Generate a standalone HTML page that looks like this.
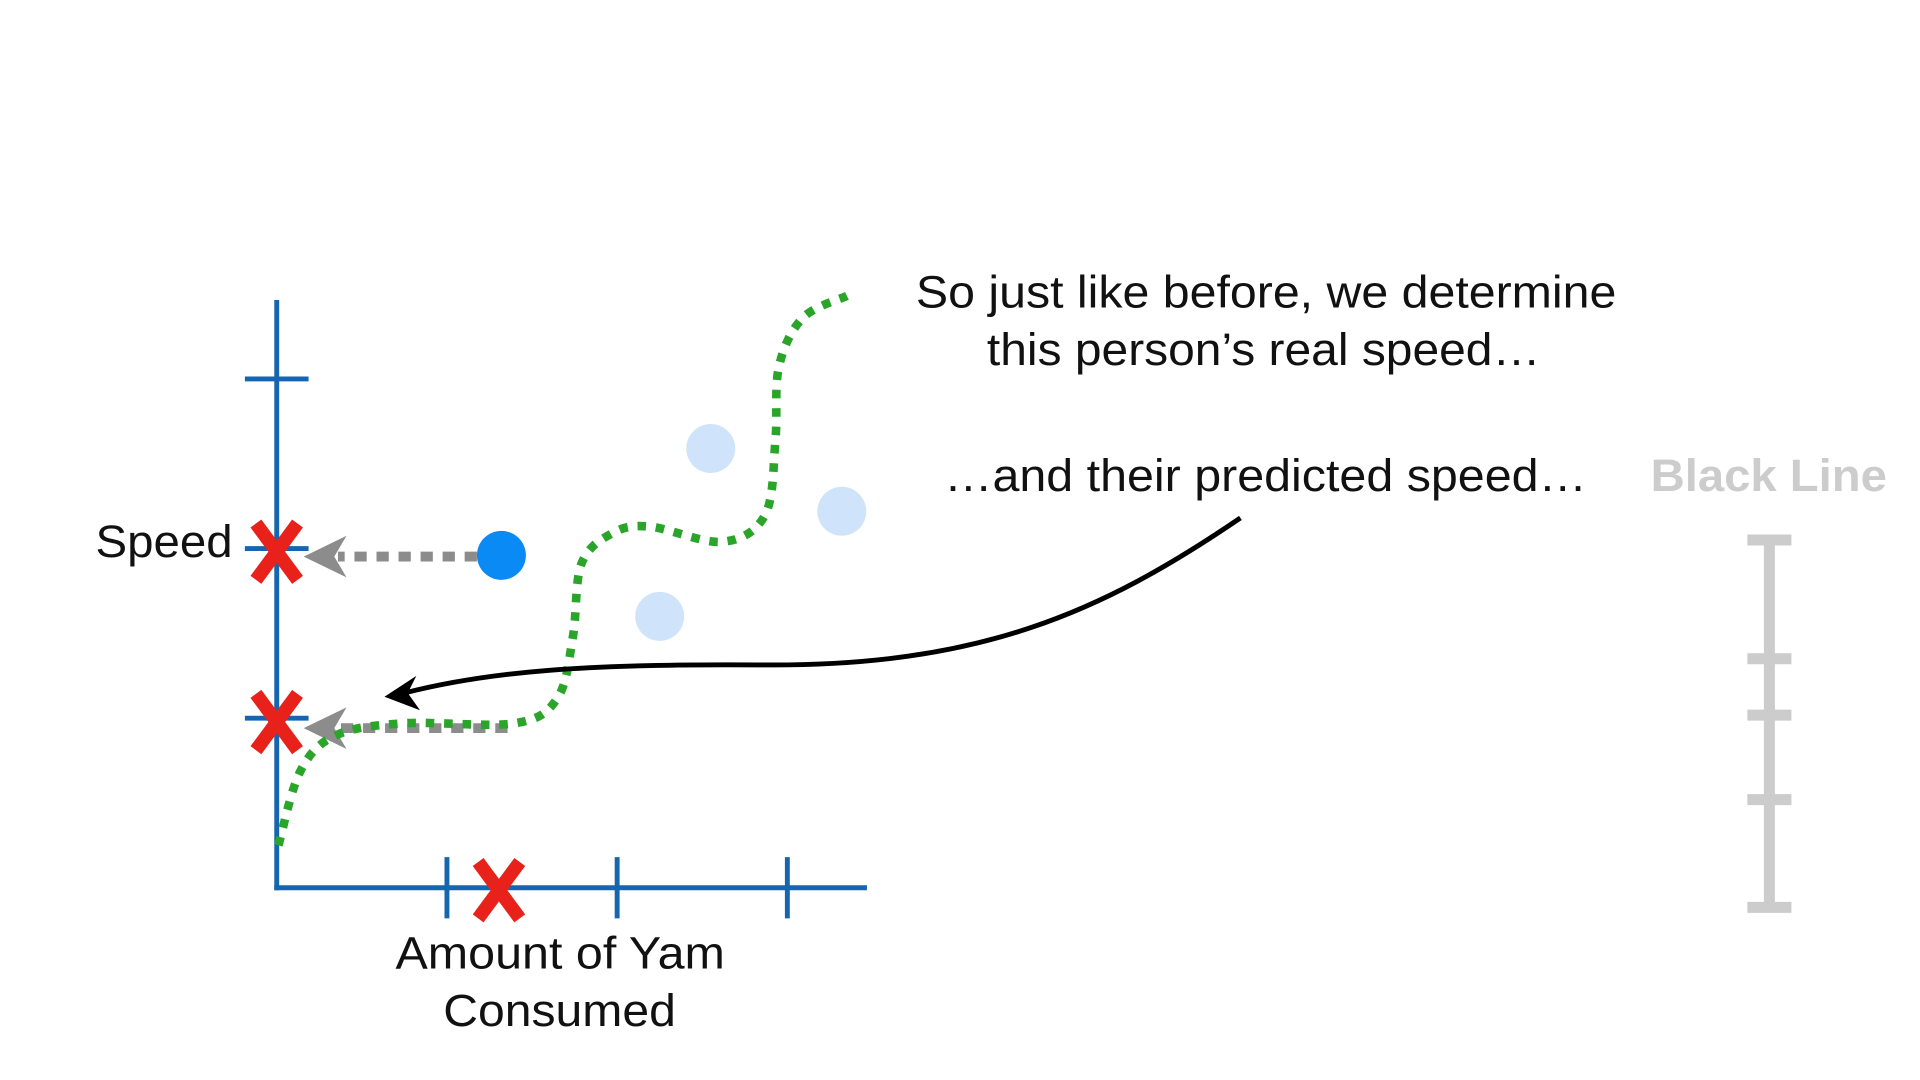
<!DOCTYPE html>
<html><head><meta charset="utf-8"><style>
html,body{margin:0;padding:0;background:#fff;}
svg{display:block;}
text{font-family:"Liberation Sans",sans-serif;}
</style></head><body>
<svg id="chart" width="1920" height="1080" viewBox="0 0 1568 882" xmlns="http://www.w3.org/2000/svg">
<rect x="0" y="0" width="1568" height="882" fill="#fff"/>
<g id="axes"></g>
<g id="marks"></g>
<text x="78" y="455" font-size="37" fill="#111" textLength="112" lengthAdjust="spacingAndGlyphs">Speed</text>
<text x="323" y="791" font-size="37" fill="#111" textLength="269" lengthAdjust="spacingAndGlyphs">Amount of Yam</text>
<text x="362" y="838" font-size="37" fill="#111" textLength="190" lengthAdjust="spacingAndGlyphs">Consumed</text>
<text x="748" y="251" font-size="37" fill="#111" textLength="572" lengthAdjust="spacingAndGlyphs">So just like before, we determine</text>
<text x="806" y="298" font-size="37" fill="#111" textLength="452" lengthAdjust="spacingAndGlyphs">this person’s real speed…</text>
<text x="771" y="401" font-size="37" fill="#111" textLength="525" lengthAdjust="spacingAndGlyphs">…and their predicted speed…</text>
<text x="1348" y="401" font-size="37" font-weight="bold" fill="#cccccc" textLength="193" lengthAdjust="spacingAndGlyphs">Black Line</text>
<g stroke="#cccccc" stroke-width="9">
<line x1="1445" y1="440" x2="1445" y2="742"/>
<line x1="1427" y1="441" x2="1463" y2="441"/>
<line x1="1427" y1="538" x2="1463" y2="538"/>
<line x1="1427" y1="584" x2="1463" y2="584"/>
<line x1="1427" y1="653" x2="1463" y2="653"/>
<line x1="1427" y1="741" x2="1463" y2="741"/>
</g>
<path d="M1013,423 C900,500 800,545 620,543 C480,542 400,548 330,566" fill="none" stroke="#000" stroke-width="4"/>
<polygon points="314,569 340,552 333,566 343,580" fill="#000"/>
</svg>
<script>
// data (axis units)
const xTicks = [1, 2, 3];
const yTicks = [1, 2, 3];
const trainX = [2.55, 3.32, 2.25];
const trainY = [2.59, 2.22, 1.60];
const testX = [1.32];
const testY = [1.96];
const predictedY = [0.97];
const curveX = [0.01, 0.14, 0.35, 0.75, 1.40, 1.65, 1.74, 1.79, 1.97, 2.19, 2.62, 2.87, 2.93, 2.95, 3.09, 3.35];
const curveY = [0.25, 0.69, 0.90, 0.97, 0.97, 1.12, 1.48, 1.91, 2.09, 2.13, 2.04, 2.20, 2.64, 3.07, 3.36, 3.49];

const X0 = 226, Y0 = 725, UX = 139, UY = 138.5;
function sx(v){ return X0 + v*UX; }
function sy(v){ return Y0 - v*UY; }
const NS = "http://www.w3.org/2000/svg";
function mk(parent, tag, attrs){ const e=document.createElementNS(NS,tag); for(const k in attrs) e.setAttribute(k,attrs[k]); parent.appendChild(e); return e; }
const axes=document.getElementById('axes'), marks=document.getElementById('marks');
const BLUE="#1565b0";
let e;
e=mk(axes,'line',{x1:sx(0),y1:245,x2:sx(0),y2:sy(0)+2,stroke:BLUE,'stroke-width':4});


e=mk(axes,'line',{x1:sx(0)-2,y1:sy(0),x2:708,y2:sy(0),stroke:BLUE,'stroke-width':4});


xTicks.forEach(t=>{
  const l=mk(axes,'line',{x1:sx(t),y1:sy(0)-25,x2:sx(t),y2:sy(0)+25,stroke:BLUE,'stroke-width':4});
  
  
});
yTicks.forEach(t=>{
  const l=mk(axes,'line',{x1:sx(0)-26,y1:sy(t),x2:sx(0)+26,y2:sy(t),stroke:BLUE,'stroke-width':4});
  
  
});
trainX.forEach((v,i)=>{
  const c=mk(marks,'circle',{cx:sx(v),cy:sy(trainY[i]),r:20,fill:"#cfe4fa"});
  
  
});
function grayArrow(x1,y){
  const l=mk(marks,'line',{x1:x1,y1:y,x2:sx(0)+50,y2:y,stroke:"#8c8c8c",'stroke-width':8,'stroke-dasharray':'10 8'});
  
  
  const h=mk(marks,'polygon',{points:`${sx(0)+22},${y} ${sx(0)+57},${y-17} ${sx(0)+47},${y} ${sx(0)+57},${y+17}`,fill:"#8c8c8c"});
  
  
}
testX.forEach((v,i)=>{ grayArrow(sx(v)-20, sy(testY[i])+1); });
predictedY.forEach(v=>{ grayArrow(sx(testX[0])+5, sy(v)+4); });
let pts=curveX.map((v,i)=>[sx(v),sy(curveY[i])]);
let d=`M${pts[0][0]},${pts[0][1]}`;
for(let i=0;i<pts.length-1;i++){
  const p0=pts[Math.max(0,i-1)],p1=pts[i],p2=pts[i+1],p3=pts[Math.min(pts.length-1,i+2)];
  const c1=[p1[0]+(p2[0]-p0[0])/6,p1[1]+(p2[1]-p0[1])/6];
  const c2=[p2[0]-(p3[0]-p1[0])/6,p2[1]-(p3[1]-p1[1])/6];
  d+=` C${c1[0]},${c1[1]} ${c2[0]},${c2[1]} ${p2[0]},${p2[1]}`;
}
e=mk(marks,'path',{d:d,fill:'none',stroke:'#2aa52a','stroke-width':7,'stroke-dasharray':'7 8'});


testX.forEach((v,i)=>{
  const c=mk(marks,'circle',{cx:sx(v),cy:sy(testY[i]),r:20,fill:"#0a8af5"});
  
  
});
function redX(cx,cy,name){
  const g=mk(marks,'g',{stroke:'#e8221b','stroke-width':11});
  
  
  mk(g,'line',{x1:cx-17,y1:cy-23,x2:cx+17,y2:cy+23});
  mk(g,'line',{x1:cx+17,y1:cy-23,x2:cx-17,y2:cy+23});
}
testY.forEach(v=>redX(sx(0),sy(v)-3,'real-speed-x-mark'));
predictedY.forEach(v=>redX(sx(0),sy(v)-1,'predicted-speed-x-mark'));
testX.forEach(v=>redX(sx(v)-2,sy(0)+2,'yam-amount-x-mark'));
</script>
</body></html>
